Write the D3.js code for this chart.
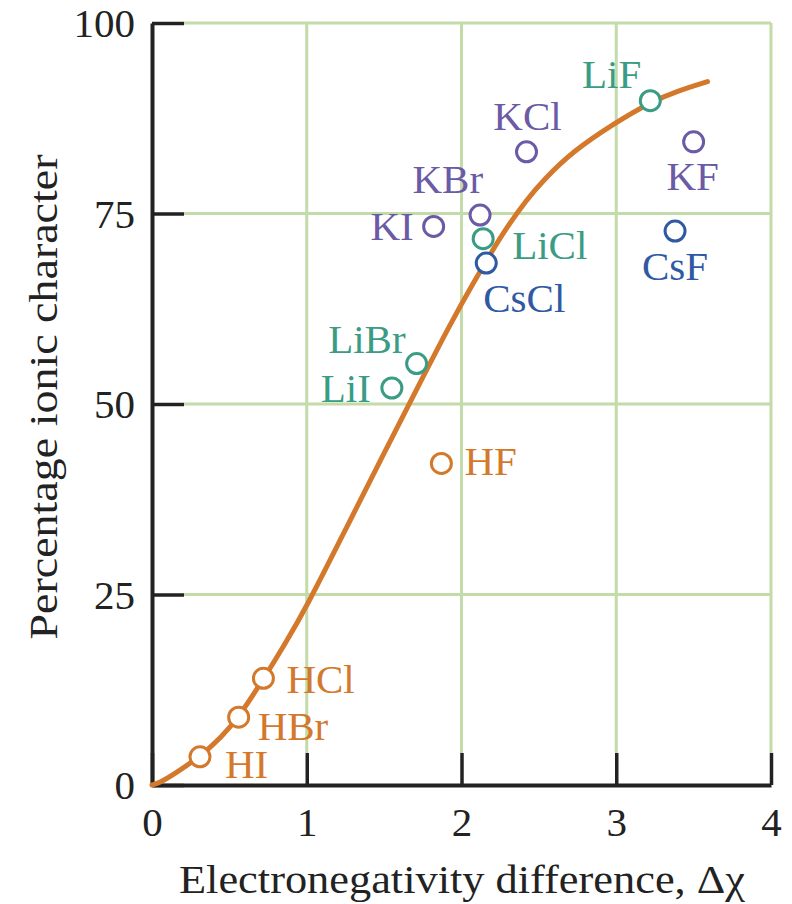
<!DOCTYPE html>
<html>
<head>
<meta charset="utf-8">
<script src="https://cdn.jsdelivr.net/npm/d3@7"></script>
<style>
  html, body { margin: 0; padding: 0; background: #fff; }
  svg { display: block; }
  text { font-family: "Liberation Serif", "DejaVu Serif", serif; }
</style>
</head>
<body>
<svg id="chart" width="792" height="904"></svg>
<script>
// ---- data ----
const xTicks = [0, 1, 2, 3, 4];
const yTicks = [0, 25, 50, 75, 100];

const curveX = [0, 0.05, 0.14, 0.31, 0.45, 0.56, 0.72, 0.85, 1.0, 1.25, 1.5, 1.75, 1.93, 2.08, 2.19, 2.29, 2.42, 2.53, 2.72, 3.0, 3.22, 3.4, 3.59];
const curveY = [0, 0.3, 1.4, 3.7, 6.3, 8.9, 13.9, 18.2, 23.4, 33.5, 43.6, 53.5, 60.6, 66.0, 69.8, 73.1, 76.8, 79.4, 83.2, 87.0, 89.6, 91.1, 92.3];

const hNames = ["HI", "HBr", "HCl", "HF"];
const hX = [0.31, 0.56, 0.72, 1.87];
const hY = [3.7, 8.9, 14.0, 42.2];

const liNames = ["LiI", "LiBr", "LiCl", "LiF"];
const liX = [1.55, 1.71, 2.14, 3.22];
const liY = [52.1, 55.3, 71.7, 89.8];

const kNames = ["KI", "KBr", "KCl", "KF"];
const kX = [1.82, 2.12, 2.42, 3.50];
const kY = [73.3, 74.8, 83.1, 84.4];

const csNames = ["CsCl", "CsF"];
const csX = [2.16, 3.38];
const csY = [68.5, 72.7];

// ---- layout / style ----
const colors = { H: "#d4792c", Li: "#3a9c84", K: "#6b5aa5", Cs: "#2f5aa3" };
const gridColor = "#c3dba8";
const labelPlace = {
  HI:   { dx: 25, dy: 21, a: "start" },
  HBr:  { dx: 19, dy: 23, a: "start" },
  HCl:  { dx: 23, dy: 15, a: "start" },
  HF:   { dx: 23, dy: 12, a: "start" },
  LiI:  { dx: -21, dy: 14, a: "end" },
  LiBr: { dx: -11, dy: -11, a: "end" },
  LiCl: { dx: 29, dy: 20, a: "start" },
  LiF:  { dx: -9, dy: -13, a: "end" },
  KI:   { dx: -20, dy: 14, a: "end" },
  KBr:  { dx: 3, dy: -22, a: "end" },
  KCl:  { dx: 1, dy: -22, a: "middle" },
  KF:   { dx: -1, dy: 48, a: "middle" },
  CsCl: { dx: -3, dy: 49, a: "start" },
  CsF:  { dx: 0, dy: 49, a: "middle" }
};

const svg = d3.select("#chart");
const x = d3.scaleLinear().domain([0, 4]).range([152, 771]);
const y = d3.scaleLinear().domain([0, 100]).range([785, 23]);
const tickLen = 32;

// grid lines (green)
const grid = svg.append("g");
grid.selectAll("line.gy").data(yTicks.filter(d => d > 0)).join("line")
  .attr("x1", x(0) + tickLen).attr("x2", x(4))
  .attr("y1", d => y(d)).attr("y2", d => y(d))
  .attr("stroke", gridColor).attr("stroke-width", 3);
grid.selectAll("line.gx").data(xTicks.filter(d => d > 0)).join("line")
  .attr("x1", d => x(d)).attr("x2", d => x(d))
  .attr("y1", y(0) - tickLen).attr("y2", y(100))
  .attr("stroke", gridColor).attr("stroke-width", 3);

// axes
const yAxis = d3.axisLeft(y).tickValues(yTicks).tickFormat(d3.format("d"))
  .tickSize(-tickLen).tickSizeOuter(0).tickPadding(17);
const xAxis = d3.axisBottom(x).tickValues(xTicks).tickFormat(d3.format("d"))
  .tickSize(-tickLen).tickSizeOuter(0).tickPadding(22);

const gy = svg.append("g").attr("transform", `translate(${x(0)},0)`).call(yAxis);
const gx = svg.append("g").attr("transform", `translate(0,${y(0)})`).call(xAxis);
[gy, gx].forEach(g => {
  g.select(".domain").attr("stroke", "#222").attr("stroke-width", 4);
  g.selectAll(".tick line").attr("stroke", "#222").attr("stroke-width", 3.5);
  g.selectAll(".tick text").attr("fill", "#222").style("font-size", "41px")
    .style("font-family", '"Liberation Serif", serif');
});
gy.selectAll(".tick text").attr("dy", "0.34em");
gx.selectAll(".tick text").attr("dy", "0.71em");

// axis titles
svg.append("text")
  .attr("x", 462).attr("y", 893)
  .attr("text-anchor", "middle")
  .attr("fill", "#222").style("font-size", "40px")
  .attr("textLength", 566).attr("lengthAdjust", "spacingAndGlyphs")
  .text("Electronegativity difference, Δχ");
svg.append("text")
  .attr("transform", "translate(57,397) rotate(-90)")
  .attr("text-anchor", "middle")
  .attr("fill", "#222").style("font-size", "40px")
  .attr("textLength", 485).attr("lengthAdjust", "spacingAndGlyphs")
  .text("Percentage ionic character");

// curve
const curvePts = curveX.map((d, i) => [d, curveY[i]]);
svg.append("path")
  .datum(curvePts)
  .attr("fill", "none")
  .attr("stroke", colors.H)
  .attr("stroke-width", 5)
  .attr("stroke-linecap", "round")
  .attr("d", d3.line().x(d => x(d[0])).y(d => y(d[1])).curve(d3.curveBasis));

// points
function series(names, xs, ys, color) {
  const pts = names.map((n, i) => ({ name: n, x: xs[i], y: ys[i] }));
  const g = svg.append("g");
  g.selectAll("circle").data(pts).join("circle")
    .attr("cx", d => x(d.x)).attr("cy", d => y(d.y)).attr("r", 10)
    .attr("fill", "#fff").attr("stroke", color).attr("stroke-width", 3);
  g.selectAll("text").data(pts).join("text")
    .attr("x", d => x(d.x) + labelPlace[d.name].dx)
    .attr("y", d => y(d.y) + labelPlace[d.name].dy)
    .attr("text-anchor", d => labelPlace[d.name].a)
    .attr("fill", color).style("font-size", "41px")
    .text(d => d.name);
}
series(hNames, hX, hY, colors.H);
series(liNames, liX, liY, colors.Li);
series(kNames, kX, kY, colors.K);
series(csNames, csX, csY, colors.Cs);
</script>
</body>
</html>
